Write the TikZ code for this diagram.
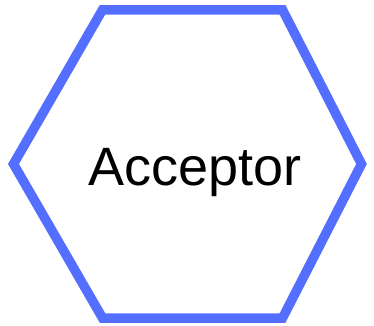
\documentclass[tikz,border=0pt]{standalone}
\usepackage{fontspec}
\setmainfont{Liberation Sans}
\definecolor{hexblue}{RGB}{84,110,255}
\tikzset{hexline/.style={draw=hexblue,line width=9.5pt,line join=miter},
 lbl/.style={font=\fontsize{54}{60}\selectfont,text=black,anchor=base,inner sep=0pt}}
\begin{document}
\begin{tikzpicture}[x=1pt,y=-1pt]
\useasboundingbox (0,0) rectangle (374,325);
\coordinate (a) at (102.5,9.75);
\coordinate (b) at (282.5,9.75);
\coordinate (c) at (361.5,164);
\coordinate (d) at (282.5,318);
\coordinate (e) at (102.5,318);
\coordinate (f) at (13.5,164);
\draw[hexline] (a) -- (b) -- (c) -- (d) -- (e) -- (f) -- cycle;
\node[lbl] (t) at (195,185) {Acceptor};
\end{tikzpicture}
\end{document}
